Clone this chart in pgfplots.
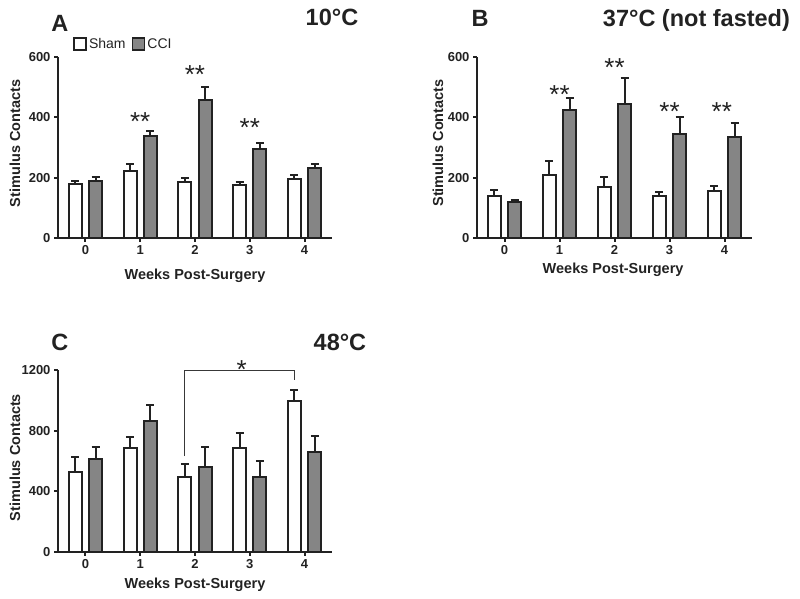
\documentclass[border=0pt]{standalone}
\usepackage{fontspec}
\setmainfont{Liberation Sans}
\usepackage{pgfplots}
\pgfplotsset{compat=1.18}
\definecolor{ccigray}{HTML}{858585}
\definecolor{ink}{HTML}{222222}
\tikzset{
  star/.style={font=\fontsize{26}{26}\selectfont, text=ink, anchor=base, inner sep=0pt},
  ttl/.style={font=\bfseries\fontsize{23.5}{23.5}\selectfont, text=ink, anchor=base, inner sep=0pt},
}
\pgfplotsset{
  panel/.style={
    scale only axis,
    axis x line*=bottom, axis y line*=left,
    axis line style={line width=2pt, ink, -},
    ybar, bar width=13pt,
    xmin=-0.5, xmax=4.5,
    xtick={0,1,2,3,4}, xticklabels={0,1,2,3,4},
    tick align=outside, major tick length=4pt,
    tick style={line width=2pt, ink},
    ymin=0, clip=false,
    /pgf/number format/assume math mode=true,
    /pgf/number format/1000 sep={},
    ticklabel style={font=\bfseries\fontsize{13}{13}\selectfont, text=ink},
    every axis x label/.style={at={(rel axis cs:0.5,-0.21)}, anchor=center},
    every axis y label/.style={at={(rel axis cs:-0.157,0.522)}, anchor=center, rotate=90},
    label style={font=\bfseries\fontsize{14.5}{14.5}\selectfont, text=ink},
    legend image code/.code={\draw[#1, line width=1.8pt] (0pt,-6pt) rectangle (12pt,6pt);},
  },
  sham/.style={draw=ink, fill=white, line width=2pt, bar shift=-10.2pt,
    error bars/y dir=plus, error bars/y explicit,
    error bars/error bar style={line width=2pt, ink},
    error bars/error mark options={rotate=90, mark size=4pt, line width=2pt, ink}},
  cci/.style={draw=ink, fill=ccigray, line width=2pt, bar shift=10.2pt,
    error bars/y dir=plus, error bars/y explicit,
    error bars/error bar style={line width=2pt, ink},
    error bars/error mark options={rotate=90, mark size=4pt, line width=2pt, ink}},
}
\begin{document}
\begin{tikzpicture}
\useasboundingbox (0,0) rectangle (800pt,598pt);
% Panel A
\begin{axis}[panel, at={(58pt,360pt)}, anchor=south west, width=274pt, height=181pt,
  ymax=600, ytick={0,200,400,600},
  xlabel={Weeks Post-Surgery}, ylabel={Stimulus Contacts},
  legend style={draw=none, fill=none, legend columns=2, at={(rel axis cs:0.055,1.073)}, anchor=west,
    inner sep=0pt, font=\fontsize{14}{14}\selectfont, text=ink,
    /tikz/every even column/.append style={column sep=4pt},
    nodes={inner sep=2pt, text height=10pt, text depth=0pt}},
  legend cell align=left]
\addplot[sham] coordinates {(0,178) +- (0,10) (1,223) +- (0,22) (2,187) +- (0,13) (3,175) +- (0,10) (4,196) +- (0,14)};
\addplot[cci] coordinates {(0,189) +- (0,12) (1,338) +- (0,18) (2,459) +- (0,40) (3,294) +- (0,22) (4,233) +- (0,12)};
\legend{Sham,CCI}
\node[star] at (axis cs:1,356) {**};
\node[star] at (axis cs:2,511) {**};
\node[star] at (axis cs:3,335) {**};
\node[ttl] at (rel axis cs:0.007,1.141) {A};
\node[ttl] at (rel axis cs:1.0,1.175) {10°C};
\end{axis}
% Panel B
\begin{axis}[panel, at={(477pt,360pt)}, anchor=south west, width=275pt, height=181pt,
  ymax=600, ytick={0,200,400,600},
  xlabel={Weeks Post-Surgery}, ylabel={Stimulus Contacts},
  xlabel style={at={(rel axis cs:0.495,-0.177)}},
  ylabel style={at={(rel axis cs:-0.142,0.525)}}]
\addplot[sham] coordinates {(0,140) +- (0,20) (1,209) +- (0,46) (2,168) +- (0,33) (3,138) +- (0,13) (4,156) +- (0,18)};
\addplot[cci] coordinates {(0,119) +- (0,8) (1,424) +- (0,41) (2,444) +- (0,85) (3,344) +- (0,56) (4,334) +- (0,46)};
\node[star] at (axis cs:1,445) {**};
\node[star] at (axis cs:2,534) {**};
\node[star] at (axis cs:3,388) {**};
\node[star] at (axis cs:3.95,388) {**};
\node[ttl] at (rel axis cs:0.011,1.167) {B};
\node[ttl] at (rel axis cs:0.798,1.167) {37°C (not fasted)};
\end{axis}
% Panel C
\begin{axis}[panel, at={(58pt,46.3pt)}, anchor=south west, width=274pt, height=181.7pt,
  ymax=1200, ytick={0,400,800,1200},
  xlabel={Weeks Post-Surgery}, ylabel={Stimulus Contacts},
  xlabel style={at={(rel axis cs:0.5,-0.183)}},
  ylabel style={at={(rel axis cs:-0.157,0.518)}}]
\addplot[sham] coordinates {(0,528) +- (0,95) (1,687) +- (0,68) (2,495) +- (0,84) (3,683) +- (0,99) (4,995) +- (0,73)};
\addplot[cci] coordinates {(0,610) +- (0,83) (1,863) +- (0,106) (2,557) +- (0,136) (3,495) +- (0,106) (4,660) +- (0,104)};
\addplot[sharp plot, draw=ink!90, line width=1.2pt, mark=none] coordinates {(1.81,632) (1.81,1195) (3.81,1195) (3.81,1134)};
\node[star] at (axis cs:2.85,1143) {*};
\node[ttl] at (rel axis cs:0.007,1.11) {C};
\node[ttl] at (rel axis cs:1.029,1.11) {48°C};
\end{axis}
\end{tikzpicture}
\end{document}
